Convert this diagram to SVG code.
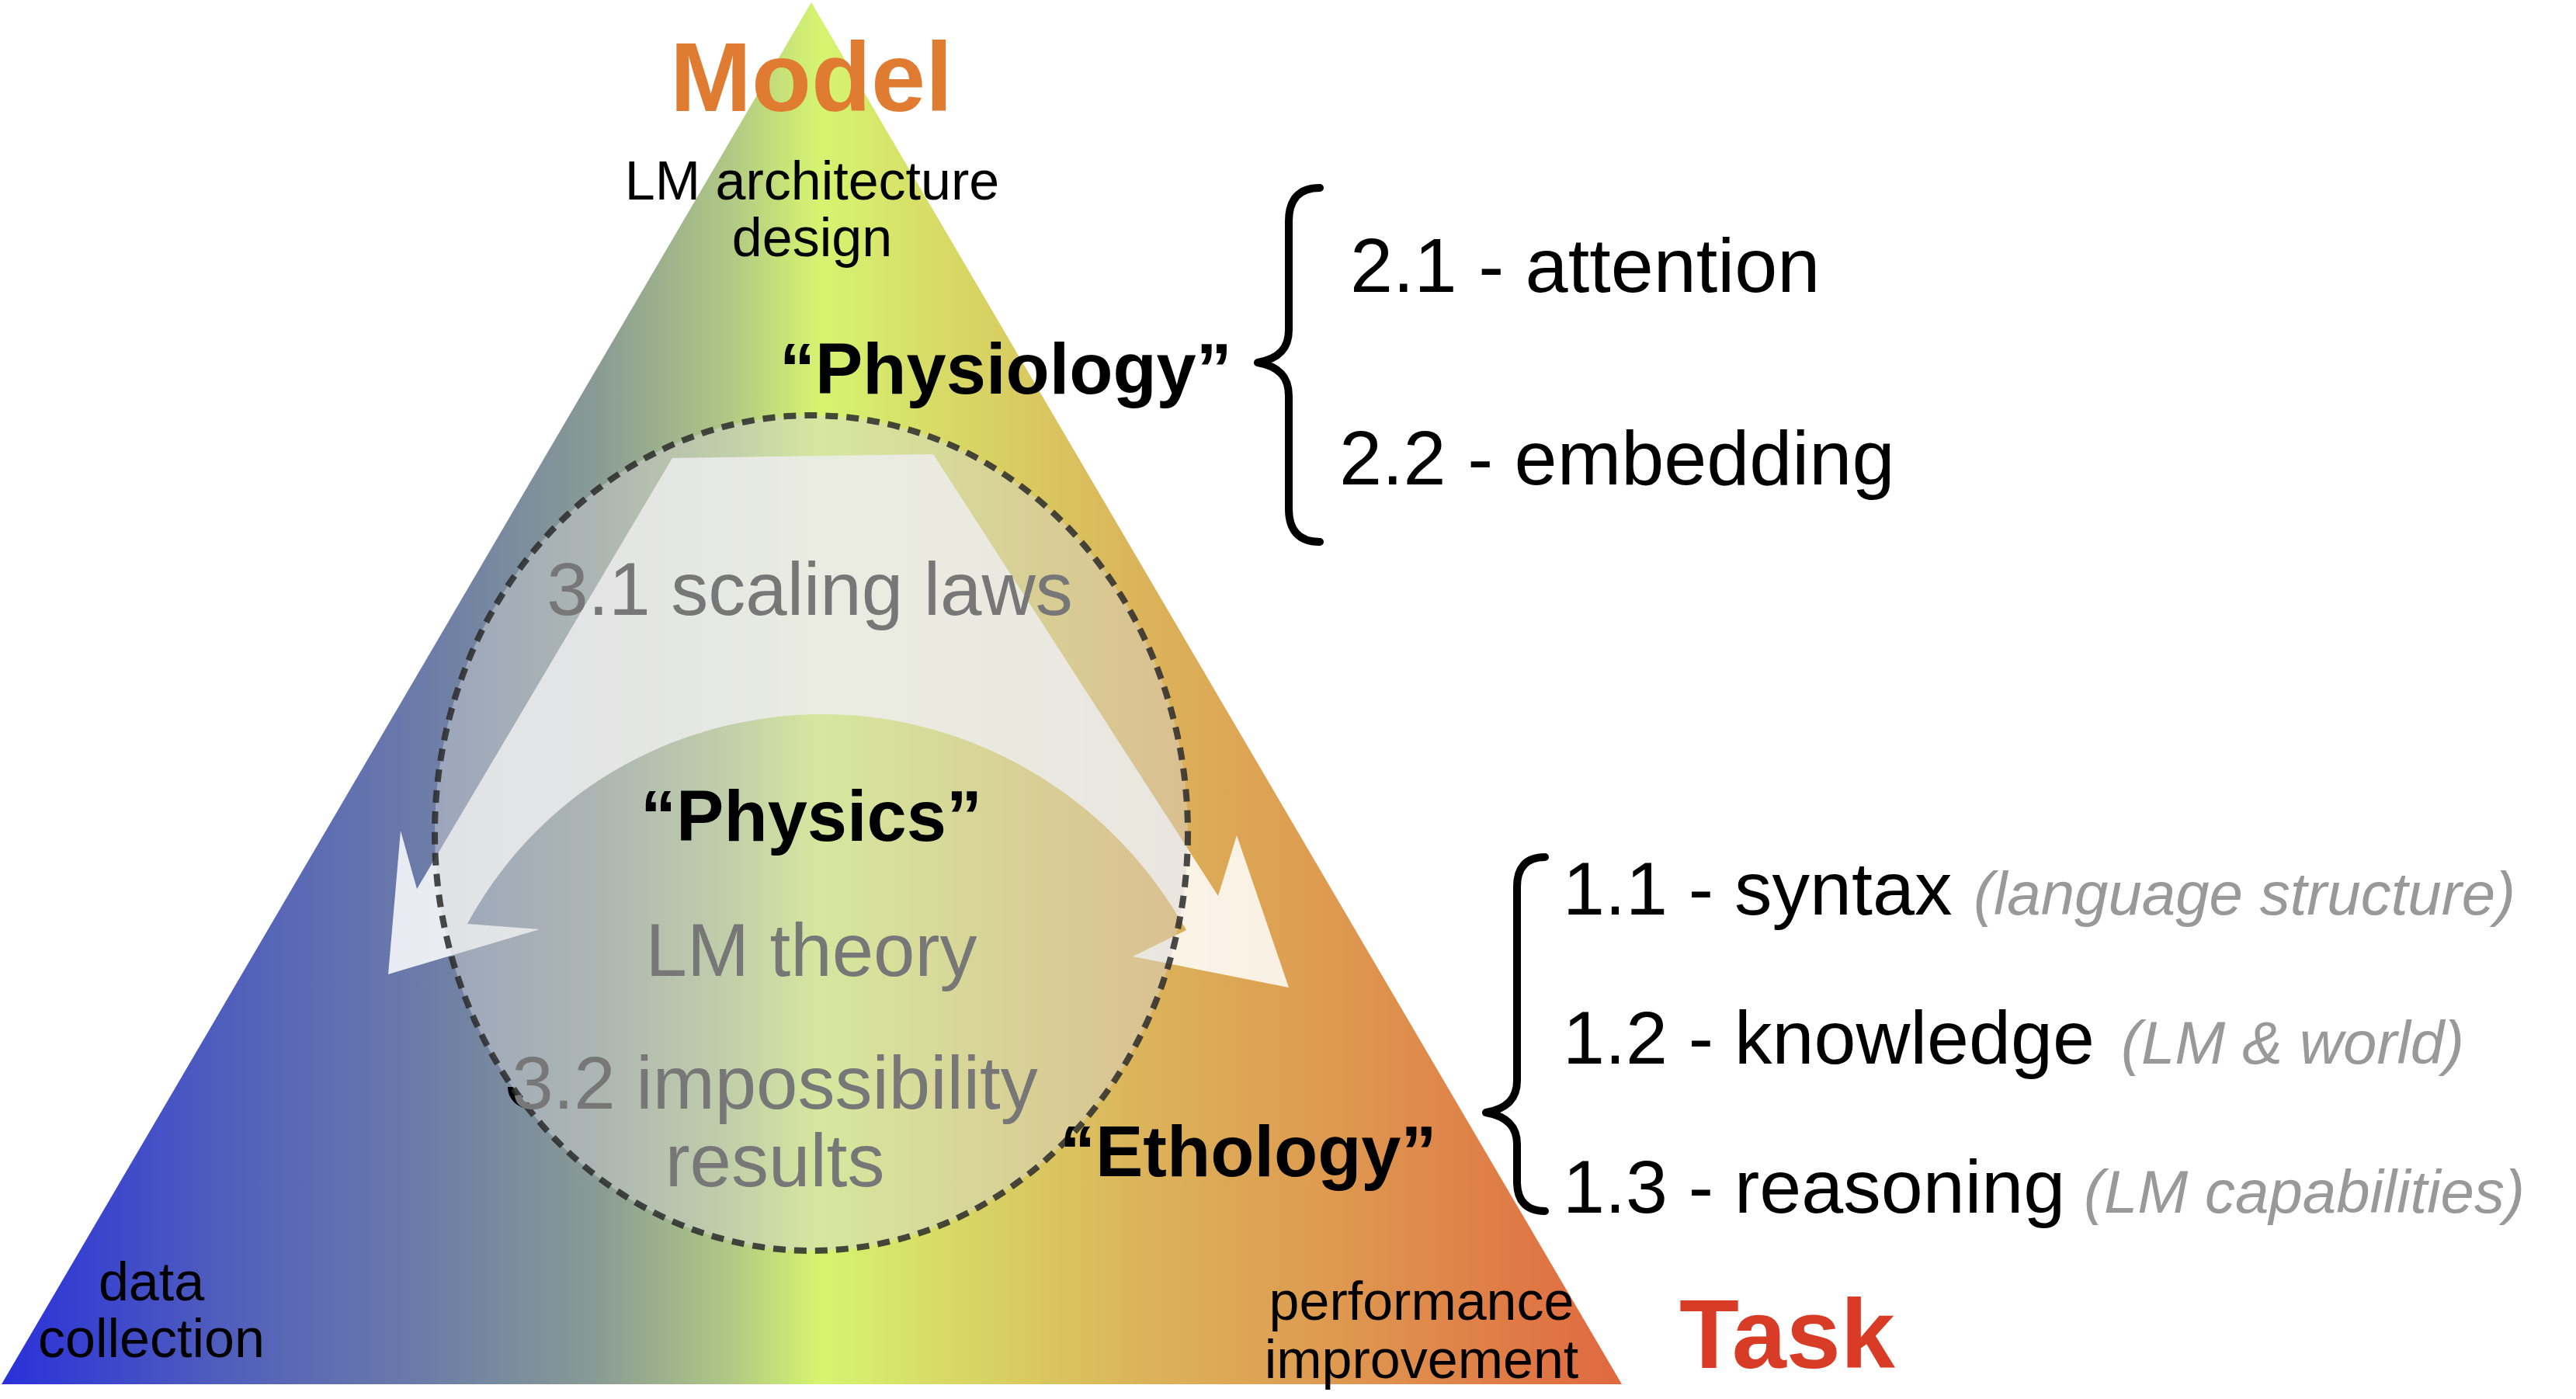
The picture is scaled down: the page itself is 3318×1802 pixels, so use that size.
<svg xmlns="http://www.w3.org/2000/svg" width="3318" height="1802" viewBox="0 0 3318 1802">
<defs>
<linearGradient id="spectrum" gradientUnits="userSpaceOnUse" x1="0" y1="0" x2="2090" y2="0">
<stop offset="0" stop-color="#2A30DA"/>
<stop offset="0.13" stop-color="#4E5CBE"/>
<stop offset="0.27" stop-color="#6E7EA6"/>
<stop offset="0.37" stop-color="#8A9C94"/>
<stop offset="0.45" stop-color="#B0C884"/>
<stop offset="0.505" stop-color="#D6F470"/>
<stop offset="0.6" stop-color="#D8D464"/>
<stop offset="0.7" stop-color="#DBB45A"/>
<stop offset="0.82" stop-color="#DE9A50"/>
<stop offset="1" stop-color="#E06840"/>
</linearGradient>
<style>
text { font-family: "Liberation Sans", Arial, Helvetica, sans-serif; }
.corner { font-weight: bold; font-size: 126px; text-anchor: middle; }
.sub { font-size: 70px; text-anchor: middle; fill: #000; }
.quote { font-weight: bold; font-size: 92px; fill: #000; }
.theory { font-size: 96px; fill: #777; text-anchor: middle; }
.item { font-size: 97px; fill: #000; }
.item2 { font-size: 99px; fill: #000; }
.note { font-size: 78px; font-style: italic; fill: #999; }
.brace { fill: none; stroke: #000; stroke-width: 10; stroke-linecap: round; stroke-linejoin: round; }
</style>
</defs>
<rect width="3318" height="1802" fill="#fff"/>

<g id="triangle">
<polygon points="1045,3 2089,1783 2,1783" fill="url(#spectrum)"/>
</g>

<g id="cycle-arrow">
<path d="M 866 590 L 1202 585 L 1569 1154 L 1593 1076 L 1660 1272 L 1459 1232 L 1528 1198 C 1425 1015, 1240 920, 1060 920 C 880 920, 700 1010, 602 1190 L 695 1197 L 500 1255 L 516 1070 L 537 1145 Z" fill="#FFFFFF" fill-opacity="0.85"/>
</g>

<g id="mark">
<path d="M 658 1400 A 24 24 0 0 0 682 1424" stroke="#000" stroke-width="8" fill="none"/>
</g>

<g id="physics-ellipse">
<ellipse cx="1045" cy="1073" rx="485" ry="538" fill="#D7D7D7" fill-opacity="0.45" stroke="#2A2A2A" stroke-opacity="0.85" stroke-width="8" stroke-dasharray="16 11"/>
</g>

<g id="node-model">
<text class="corner" x="1045" y="143" fill="#E07B32">Model</text>
<text class="sub" x="1046" y="257">LM architecture</text>
<text class="sub" x="1046" y="330">design</text>
</g>

<g id="node-physiology">
<text class="quote" x="1004" y="507">“Physiology”</text>
</g>

<g id="node-physics">
<text class="theory" x="1043" y="792">3.1 scaling laws</text>
<text class="quote" x="1045" y="1083" text-anchor="middle">“Physics”</text>
<text class="theory" x="1045" y="1257">LM theory</text>
<text class="theory" x="998" y="1428">3.2 impossibility</text>
<text class="theory" x="998" y="1528">results</text>
</g>

<g id="node-ethology">
<text class="quote" x="1365" y="1515">“Ethology”</text>
</g>

<g id="node-data">
<text class="sub" x="195" y="1675">data</text>
<text class="sub" x="195" y="1748">collection</text>
</g>

<g id="node-task">
<text class="sub" x="1831" y="1700">performance</text>
<text class="sub" x="1831" y="1775">improvement</text>
<text class="corner" x="2302" y="1762" fill="#D83C27">Task</text>
</g>

<g id="node-physiology-items">
<text class="item2" x="1739" y="376">2.1 - attention</text>
<text class="item2" x="1725" y="624">2.2 - embedding</text>
</g>

<g id="node-ethology-items">
<text class="item" x="2013" y="1178">1.1 - syntax</text>
<text class="note" x="2542" y="1178">(language structure)</text>
<text class="item" x="2013" y="1370">1.2 - knowledge</text>
<text class="note" x="2732" y="1370">(LM &amp; world)</text>
<text class="item" x="2013" y="1562">1.3 - reasoning</text>
<text class="note" x="2684" y="1562">(LM capabilities)</text>
</g>

<g id="connectors">
<path class="brace" d="M 1700 242 C 1672 242, 1660 258, 1660 285 L 1660 425 C 1660 448, 1648 462, 1620 467 C 1648 472, 1660 486, 1660 510 L 1660 655 C 1660 682, 1672 698, 1700 698"/>
<path class="brace" d="M 1990 1104 C 1965 1104, 1954 1118, 1954 1142 L 1954 1392 C 1954 1414, 1942 1428, 1914 1433 C 1942 1438, 1954 1452, 1954 1474 L 1954 1522 C 1954 1546, 1965 1560, 1990 1560"/>
</g>
</svg>
